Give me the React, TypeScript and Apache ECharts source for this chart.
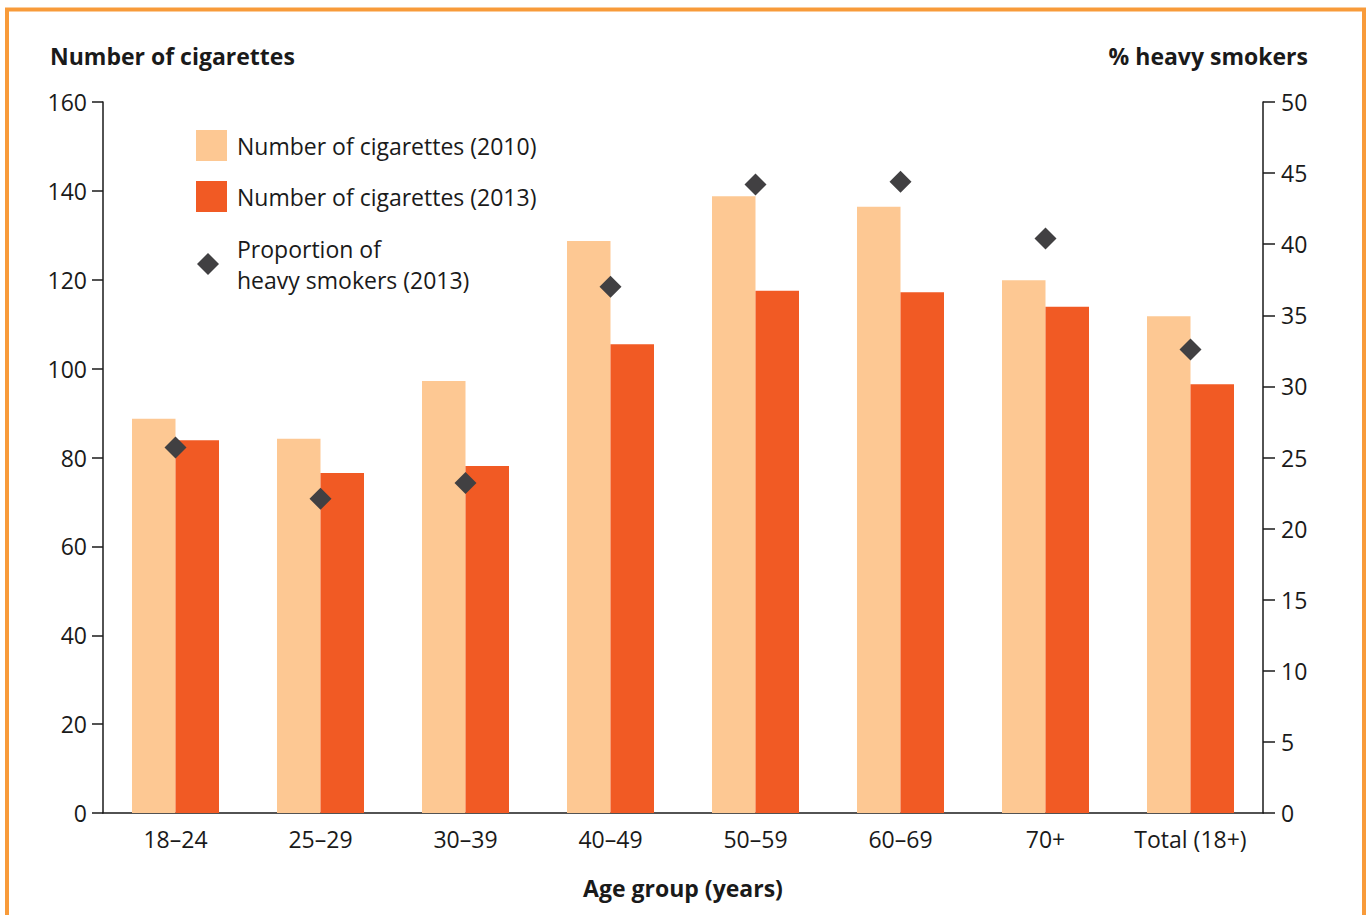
import React, { useEffect, useRef } from "react";
import * as echarts from "echarts";

const categories = ["18–24", "25–29", "30–39", "40–49", "50–59", "60–69", "70+", "Total (18+)"];
const cigarettes2010 = [88.7, 84.2, 97.2, 128.7, 138.8, 136.4, 119.9, 111.8];
const cigarettes2013 = [83.9, 76.5, 78.1, 105.5, 117.5, 117.2, 113.9, 96.5];
const heavySmokers2013 = [25.7, 22.1, 23.2, 37.0, 44.2, 44.4, 40.4, 32.6];
const leftTicks = { min: 0, max: 160, interval: 20 };
const rightTicks = { min: 0, max: 50, interval: 5 };

const FONT = "'Open Sans', 'Noto Sans', sans-serif";
const TXT = "#1a1a1a";
const FS = 23;

export default function App() {
  const ref = useRef<HTMLDivElement>(null);
  useEffect(() => {
    if (!ref.current) return;
    const chart = echarts.init(ref.current, undefined, { renderer: "svg" });
    const axisLine = { show: true, lineStyle: { color: "#1a1a1a", width: 1.5 } };
    chart.setOption({
      animation: false,
      backgroundColor: "#ffffff",
      textStyle: { fontFamily: FONT, color: TXT },
      grid: { left: 103, right: 104, top: 102, bottom: 102, containLabel: false },
      legend: [
        {
          data: ["Number of cigarettes (2010)", "Number of cigarettes (2013)"],
          orient: "vertical",
          left: 196,
          top: 130,
          padding: 0,
          itemWidth: 31,
          itemHeight: 31,
          itemGap: 20,
          icon: "rect",
          selectedMode: false,
          textStyle: { fontFamily: FONT, fontSize: FS, color: TXT, padding: [0, 0, 0, 5] },
        },
        {
          data: ["Proportion of\nheavy smokers (2013)"],
          orient: "vertical",
          left: 197,
          top: 233,
          padding: 0,
          itemWidth: 22,
          itemHeight: 22,
          icon: "diamond",
          selectedMode: false,
          textStyle: { fontFamily: FONT, fontSize: FS, color: TXT, lineHeight: 31, padding: [0, 0, 0, 13] },
        },
      ],
      xAxis: {
        type: "category",
        data: categories,
        axisLine,
        axisTick: { show: false },
        axisLabel: { fontFamily: FONT, fontSize: FS, color: TXT, margin: 14, interval: 0 },
        name: "Age group (years)",
        nameLocation: "middle",
        nameGap: 63,
        nameTextStyle: { fontFamily: FONT, fontSize: FS, fontWeight: "bold", color: TXT },
      },
      yAxis: [
        {
          type: "value",
          position: "left",
          ...leftTicks,
          axisLine,
          axisTick: { show: true, length: 11, lineStyle: { color: "#1a1a1a", width: 1.5 } },
          axisLabel: { fontFamily: FONT, fontSize: FS, color: TXT, margin: 16 },
          splitLine: { show: false },
        },
        {
          type: "value",
          position: "right",
          ...rightTicks,
          axisLine,
          axisTick: { show: true, length: 12, lineStyle: { color: "#1a1a1a", width: 1.5 } },
          axisLabel: { fontFamily: FONT, fontSize: FS, color: TXT, margin: 18 },
          splitLine: { show: false },
        },
      ],
      series: [
        {
          name: "Number of cigarettes (2010)",
          type: "bar",
          data: cigarettes2010,
          barWidth: "30%",
          barGap: "0%",
          itemStyle: { color: "#FDC893" },
        },
        {
          name: "Number of cigarettes (2013)",
          type: "bar",
          data: cigarettes2013,
          barWidth: "30%",
          barGap: "0%",
          itemStyle: { color: "#F15A24" },
        },
        {
          name: "Proportion of\nheavy smokers (2013)",
          type: "scatter",
          yAxisIndex: 1,
          data: heavySmokers2013,
          symbol: "diamond",
          symbolSize: 22,
          itemStyle: { color: "#414042", opacity: 1 },
          z: 5,
        },
      ],
      graphic: [
        {
          type: "rect",
          shape: { x: 7, y: 9.5, width: 1357, height: 930 },
          style: { fill: "none", stroke: "#F89B3A", lineWidth: 4 },
          silent: true,
        },
        {
          type: "text",
          left: 50,
          top: 44,
          style: { text: "Number of cigarettes", font: `bold ${FS}px ${FONT}`, fill: TXT },
        },
        {
          type: "text",
          right: 59,
          top: 44,
          style: { text: "% heavy smokers", font: `bold ${FS}px ${FONT}`, fill: TXT, align: "right" },
        },
      ],
    });
    return () => chart.dispose();
  }, []);
  return (
    <div
      ref={ref}
      style={{ position: "absolute", left: 0, top: 0, width: 1367, height: 915 }}
    />
  );
}
